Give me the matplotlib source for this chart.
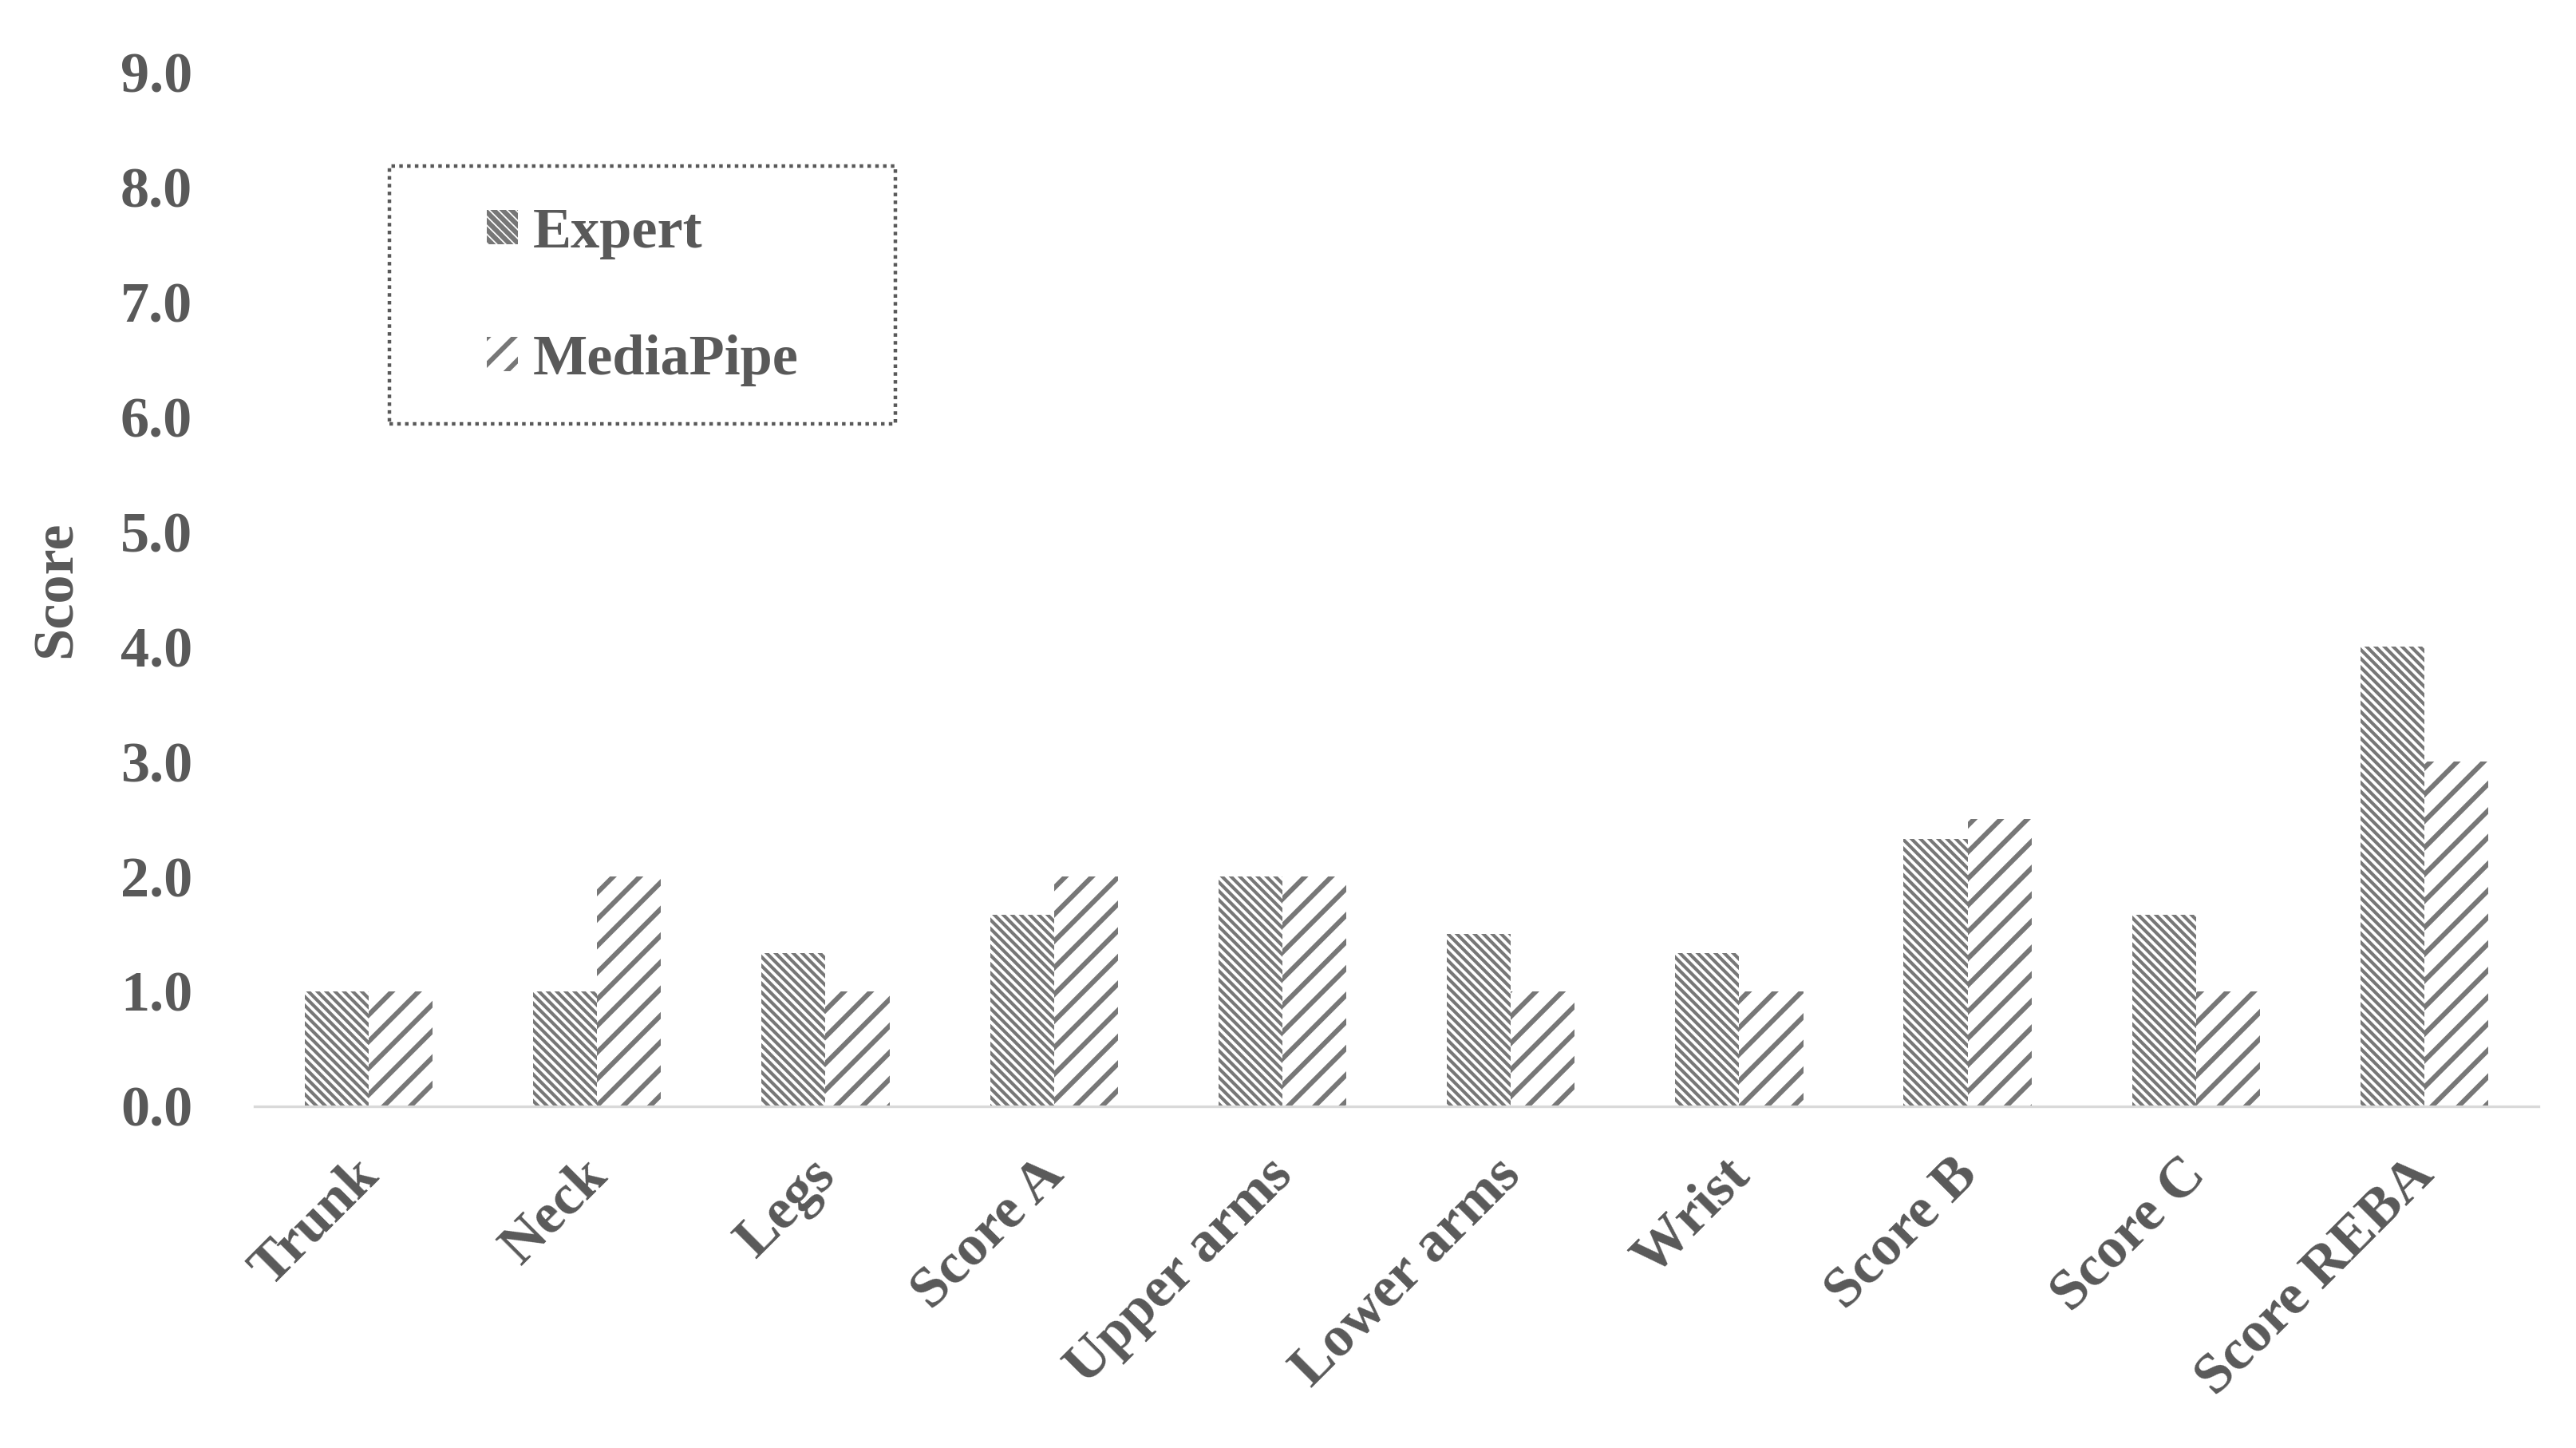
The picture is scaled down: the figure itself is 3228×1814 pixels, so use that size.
import numpy as np
import matplotlib
matplotlib.use('Agg')
import matplotlib.pyplot as plt
import matplotlib.transforms as mtransforms
from matplotlib.patches import Rectangle

categories = ['Trunk', 'Neck', 'Legs', 'Score A', 'Upper arms', 'Lower arms',
              'Wrist', 'Score B', 'Score C', 'Score REBA']
expert = [1.0, 1.0, 1.33, 1.67, 2.0, 1.5, 1.33, 2.33, 1.67, 4.0]
mediapipe = [1.0, 2.0, 1.0, 2.0, 2.0, 1.0, 1.0, 2.5, 1.0, 3.0]
yticks = np.arange(0, 10, 1)

plt.rcParams['font.family'] = ['Liberation Serif', 'DejaVu Serif']
plt.rcParams['font.weight'] = 'bold'
txt = '#595959'
hatch_col = '#777777'

fig = plt.figure(figsize=(3228 / 200, 1814 / 200), dpi=200)
ax = fig.add_axes([0.0988, 0.236, 0.8867, 0.714])

x = np.arange(len(categories))
w = 0.28
plt.rcParams['hatch.linewidth'] = 1.5
b1 = ax.bar(x - w / 2, expert, w, color='white', edgecolor=hatch_col,
            linewidth=0, hatch='\\' * 6, label='Expert')
plt.rcParams['hatch.linewidth'] = 2.2
b2 = ax.bar(x + w / 2, mediapipe, w, color='white', edgecolor=hatch_col,
            linewidth=0, hatch='//', label='MediaPipe')
for p in b1:
    if hasattr(p, 'set_hatch_linewidth'):
        p.set_hatch_linewidth(1.5)
for p in b2:
    if hasattr(p, 'set_hatch_linewidth'):
        p.set_hatch_linewidth(2.2)

ax.set_xlim(-0.5, len(categories) - 0.5)
ax.set_ylim(0, 9)
ax.set_yticks(yticks)
ax.set_yticklabels([f'{v:.1f}' for v in yticks], fontsize=26, color=txt,
                   fontweight='bold')
ax.set_xticks(x)
ax.set_xticklabels(categories, fontsize=26, color=txt, fontweight='bold',
                   rotation=45, ha='right', va='baseline', rotation_mode='anchor')
ax.tick_params(axis='both', length=0)
ax.tick_params(axis='y', pad=28)
ax.tick_params(axis='x', pad=32)
shift = mtransforms.ScaledTranslation(15 / 200, 0, fig.dpi_scale_trans)
for lab in ax.get_xticklabels():
    lab.set_transform(lab.get_transform() + shift)
for s in ['top', 'right', 'left']:
    ax.spines[s].set_visible(False)
ax.spines['bottom'].set_color('#d9d9d9')
ax.spines['bottom'].set_linewidth(1.2)
ax.set_ylabel('Score', fontsize=26, color=txt, fontweight='bold')
ax.yaxis.set_label_coords(-0.0751, 0.5)

# dotted legend box
fig.patches.append(Rectangle((488 / 3228, 1 - 531 / 1814), 634 / 3228, 323 / 1814,
                             transform=fig.transFigure, fill=False,
                             edgecolor='#595959', linestyle=(0, (1, 1.2)),
                             linewidth=1.6))
leg = ax.legend(loc='center', bbox_to_anchor=(805 / 3228, 1 - 372 / 1814),
                bbox_transform=fig.transFigure, frameon=False,
                prop={'family': 'Liberation Serif', 'weight': 'bold', 'size': 26},
                labelcolor=txt, handlelength=0.55, handleheight=0.55,
                handletextpad=0.25, labelspacing=1.3)

fig.savefig('out.png', dpi=200, facecolor='white')
